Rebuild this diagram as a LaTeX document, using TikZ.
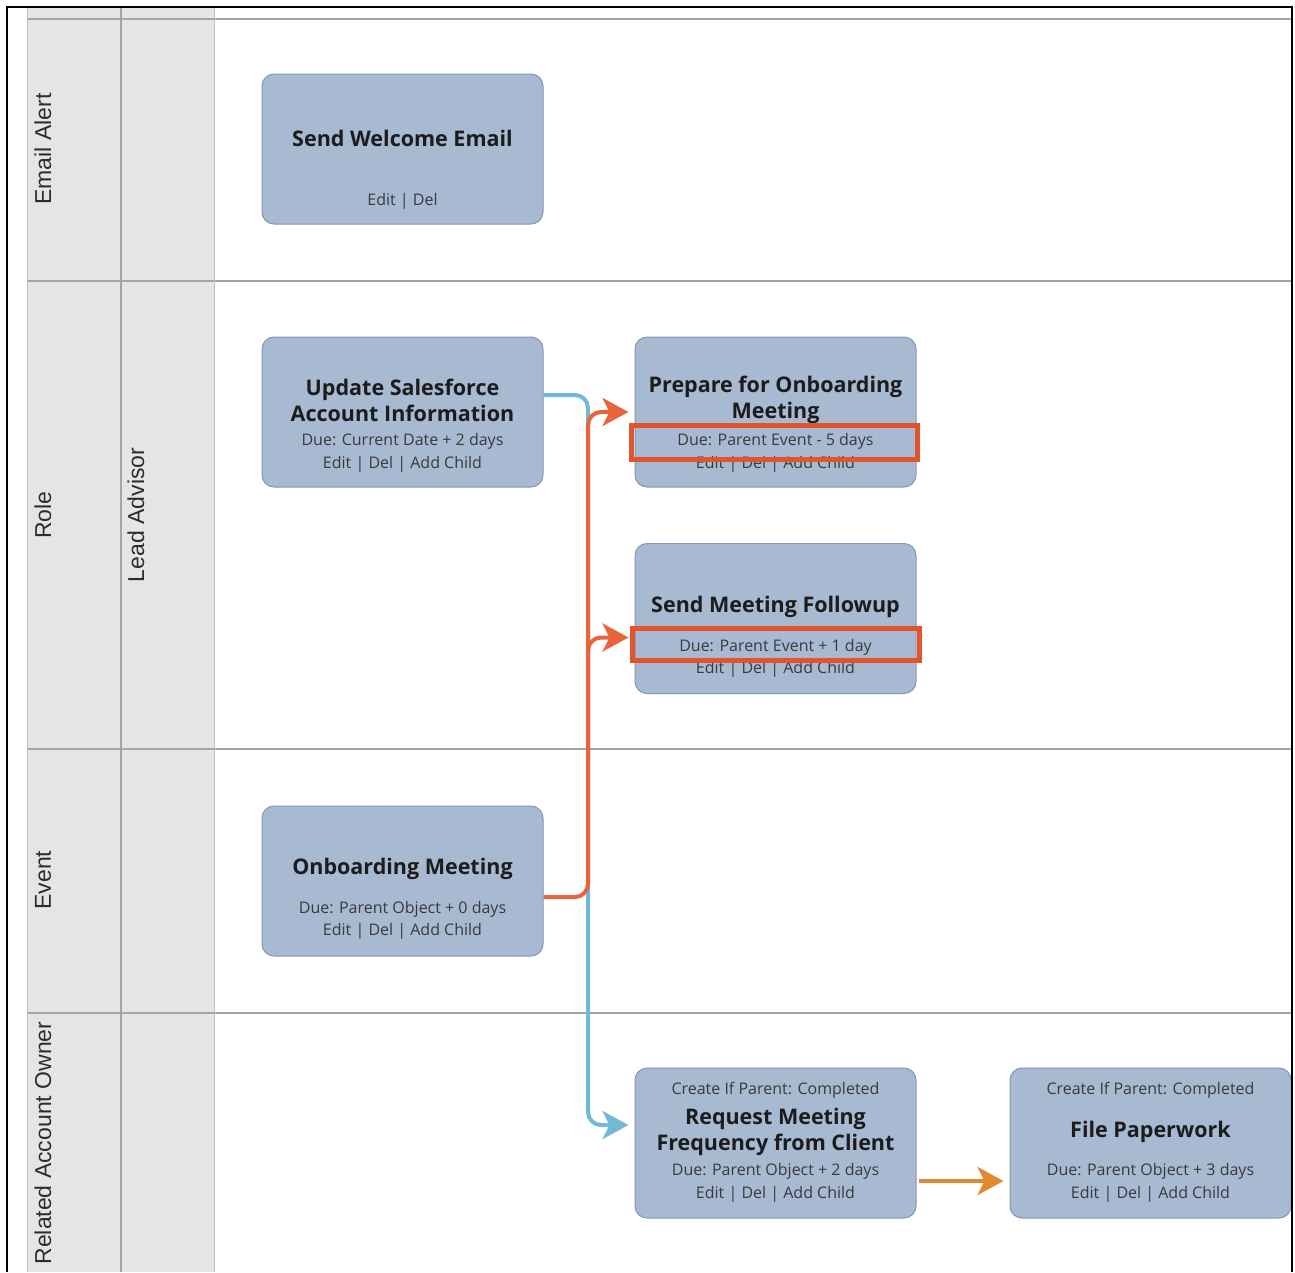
\documentclass[tikz,border=0pt]{standalone}
\usepackage{fontspec}
\setmainfont{Open Sans}
\newfontfamily\lanefont{Liberation Sans}
\usetikzlibrary{arrows.meta,calc}
\definecolor{nodefill}{HTML}{A8B9D2}
\definecolor{nodeborder}{HTML}{8396B4}
\definecolor{titlecol}{HTML}{1C1C1C}
\definecolor{subcol}{HTML}{3A3A3A}
\definecolor{lanegray}{HTML}{E5E5E5}
\definecolor{laneline}{HTML}{A4A4A4}
\definecolor{lanetext}{HTML}{2E2A33}
\definecolor{bluecol}{HTML}{72B9D8}
\definecolor{orcol}{HTML}{E8643A}
\definecolor{hlcol}{HTML}{E4542C}
\definecolor{ambercol}{HTML}{E0892F}
\begin{document}
\begin{tikzpicture}[x=1pt,y=-1pt,
  task/.style={draw=nodeborder, fill=nodefill, rounded corners=12pt, minimum width=281pt, minimum height=150pt, line width=1pt, inner sep=0pt},
  ttl/.style={font=\bfseries\fontsize{21.5}{26}\selectfont, text=titlecol, align=center, inner sep=0pt},
  sub/.style={font=\fontsize{16}{18}\selectfont, text=subcol, inner sep=0pt},
  lane/.style={font=\lanefont\fontsize{23}{26}\selectfont, text=lanetext, rotate=90, inner sep=0pt},
  hl/.style={draw=hlcol, line width=5pt, inner sep=0pt},
  grid/.style={draw=laneline, line width=1.6pt},
  tipsty/.style={-{Stealth[length=26pt,width=28pt,inset=7pt]}},
  bluearr/.style={draw=bluecol, line width=4pt, rounded corners=13pt, tipsty},
  orarr/.style={draw=orcol, line width=4pt, rounded corners=13pt, tipsty},
  amarr/.style={draw=ambercol, line width=4pt, tipsty}
]
\useasboundingbox (0,0) rectangle (1295,1272);
\fill[white] (0,0) rectangle (1295,1272);
% lane header columns
\fill[lanegray] (27,6) rectangle (214,1272);
% grid lines
\draw[grid] (27,19) -- (1292,19);
\draw[grid] (27,281) -- (1292,281);
\draw[grid] (27,749) -- (1292,749);
\draw[grid] (27,1013) -- (1292,1013);
\draw[draw=laneline!70, line width=1pt] (27,6) -- (27,1272);
\draw[grid] (121,6) -- (121,1272);
\draw[draw=laneline!70, line width=1pt] (214,6) -- (214,1272);
% lane labels
\node[lane] (l1) at (43,149) {Email Alert};
\node[lane] (l2) at (43,515) {Role};
\node[lane] (l3) at (136,515) {Lead Advisor};
\node[lane] (l4) at (43,880) {Event};
\node[lane] (l5) at (43,1143) {Related Account Owner};
% task boxes
\node[task] (sw) at (402.5,149) {};
\node[task] (upd) at (402.5,412) {};
\node[task] (prep) at (775.5,412) {};
\node[task] (fol) at (775.5,618.5) {};
\node[task] (onb) at (402.5,881) {};
\node[task] (req) at (775.5,1143) {};
\node[task] (file) at (1150.5,1143) {};
% texts
\node[ttl] (swt) at (402.5,138) {Send Welcome Email};
\node[sub] (swl) at (402.5,201) {Edit | Del};
\node[ttl] (updt) at (402.5,400) {Update Salesforce\\Account Information};
\node[sub] (updd) at (402.5,441) {Due: Current Date + 2 days};
\node[sub] (updl) at (402.5,464) {Edit | Del | Add Child};
\node[ttl] (prept) at (775.5,400) {Prepare for Onboarding\\Meeting};
\node[sub] (prepl) at (775.5,464) {Edit | Del | Add Child};
\node[sub] (prepd) at (775.5,441) {Due: Parent Event - 5 days};
\node[ttl] (folt) at (775.5,607) {Send Meeting Followup};
\node[sub] (foll) at (775.5,669) {Edit | Del | Add Child};
\node[sub] (fold) at (775.5,647) {Due: Parent Event + 1 day};
\node[ttl] (onbt) at (402.5,869) {Onboarding Meeting};
\node[sub] (onbd) at (402.5,909) {Due: Parent Object + 0 days};
\node[sub] (onbl) at (402.5,931) {Edit | Del | Add Child};
\node[sub] (reqc) at (775.5,1090) {Create If Parent: Completed};
\node[ttl] (reqt) at (775.5,1132) {Request Meeting\\Frequency from Client};
\node[sub] (reqd) at (775.5,1171) {Due: Parent Object + 2 days};
\node[sub] (reql) at (775.5,1194) {Edit | Del | Add Child};
\node[sub] (filec) at (1150.5,1090) {Create If Parent: Completed};
\node[ttl] (filet) at (1150.5,1132) {File Paperwork};
\node[sub] (filed) at (1150.5,1171) {Due: Parent Object + 3 days};
\node[sub] (filel) at (1150.5,1194) {Edit | Del | Add Child};
% connectors
\coordinate (trunk) at (588,760);
\draw[bluearr] ([yshift=17pt]upd.east) -| (trunk) |- ([xshift=-6pt,yshift=18pt]req.west);
\draw[orarr] ([yshift=-16pt]onb.east) -| (trunk) |- ([xshift=-6pt]prep.west);
\draw[orarr] (trunk) |- ([xshift=-6pt,yshift=-19pt]fol.west);
\draw[amarr] ([xshift=2pt,yshift=-38pt]req.east) -- ([xshift=-6pt,yshift=-38pt]file.west);
% highlight boxes
\node[hl, minimum width=286pt, minimum height=34pt] (hl1) at (774.5,442.5) {};
\node[hl, minimum width=287pt, minimum height=32pt] (hl2) at (776,644.5) {};
% outer frame
\draw[black, line width=2pt] (7,1272) -- (7,7) -- (1292,7) -- (1292,1272);
\end{tikzpicture}
\end{document}
